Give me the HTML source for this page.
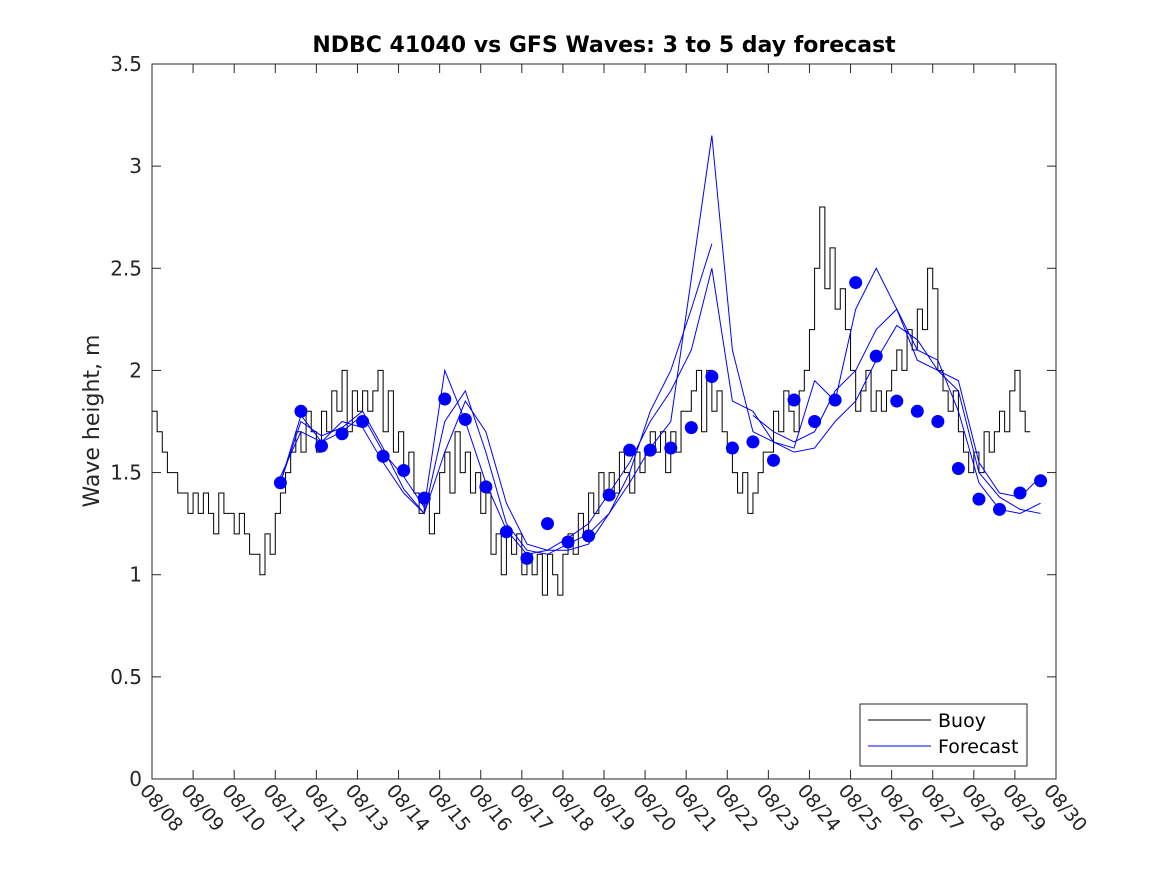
<!DOCTYPE html>
<html><head><meta charset="utf-8">
<style>
body{margin:0;background:#fff;}
svg{display:block;font-family:"DejaVu Sans","Liberation Sans",sans-serif;}
</style></head>
<body>
<svg id="chart" width="1167" height="875" viewBox="0 0 1167 875" xmlns="http://www.w3.org/2000/svg">
<rect width="1167" height="875" fill="#fff"/>
<text x="604" y="52" text-anchor="middle" font-size="22" font-weight="bold" fill="#000">NDBC 41040 vs GFS Waves: 3 to 5 day forecast</text>
<text transform="translate(99,421) rotate(-90)" text-anchor="middle" font-size="22" fill="#262626">Wave height, m</text>
<g id="axes"></g>
<g id="series"></g>
<g>
<rect x="860" y="704" width="167" height="62" fill="#fff" stroke="#262626" stroke-width="1"/>
<line x1="868" y1="720" x2="931" y2="720" stroke="#000" stroke-width="1"/>
<text x="938" y="727" font-size="19" fill="#000">Buoy</text>
<line x1="868" y1="746" x2="931" y2="746" stroke="#0000ff" stroke-width="1"/>
<text x="938" y="753" font-size="19" fill="#000">Forecast</text>
</g>
</svg>
<script>
const yTicks=[0,0.5,1,1.5,2,2.5,3,3.5];
const yTickLabels=["0","0.5","1","1.5","2","2.5","3","3.5"];
const xTickLabels=["08/08","08/09","08/10","08/11","08/12","08/13","08/14","08/15","08/16","08/17","08/18","08/19","08/20","08/21","08/22","08/23","08/24","08/25","08/26","08/27","08/28","08/29","08/30"];
const buoyStart=0, buoyStep=0.125;
const buoy=[1.8,1.7,1.6,1.5,1.5,1.4,1.4,1.3,
1.4,1.3,1.4,1.3,1.2,1.4,1.3,1.3,
1.2,1.3,1.2,1.1,1.1,1.0,1.2,1.1,
1.3,1.4,1.5,1.6,1.7,1.6,1.8,1.7,
1.6,1.8,1.7,1.9,1.8,2.0,1.7,1.9,
1.8,1.9,1.8,1.9,2.0,1.7,1.9,1.6,
1.7,1.5,1.6,1.4,1.3,1.4,1.2,1.3,
1.5,1.6,1.4,1.7,1.5,1.6,1.4,1.5,
1.3,1.4,1.1,1.2,1.0,1.2,1.1,1.2,
1.0,1.1,1.0,1.1,0.9,1.1,1.0,0.9,
1.1,1.2,1.1,1.3,1.2,1.4,1.3,1.5,
1.4,1.5,1.4,1.6,1.5,1.4,1.6,1.5,
1.6,1.7,1.6,1.7,1.5,1.7,1.6,1.8,
1.8,1.9,2.0,1.7,2.0,1.8,1.9,1.7,
1.6,1.5,1.4,1.5,1.3,1.4,1.5,1.6,
1.6,1.8,1.7,1.9,1.8,1.7,1.9,2.0,
2.2,2.5,2.8,2.4,2.6,2.3,2.4,2.2,
2.0,1.8,1.9,2.0,1.8,1.9,1.8,1.9,
2.0,2.1,2.0,2.2,2.1,2.3,2.2,2.5,
2.4,2.0,1.9,1.8,1.9,1.7,1.6,1.5,
1.6,1.5,1.7,1.6,1.7,1.8,1.7,1.9,
2.0,1.8,1.7];
const fcStart=3.125, fcStep=0.5;
const dots=[1.45,1.80,1.63,1.69,1.75,1.58,1.51,1.375,1.86,1.76,1.43,1.21,1.08,1.25,1.16,1.19,1.39,1.61,1.61,1.62,1.72,1.97,1.62,1.65,1.56,1.855,1.75,1.855,2.43,2.07,1.85,1.80,1.75,1.52,1.37,1.32,1.40,1.46];
const fc1=[1.45,1.78,1.65,1.70,1.78,1.60,1.48,1.33,2.00,1.75,1.45,1.22,1.10,1.12,1.12,1.15,1.30,1.45,1.62,1.75,2.45,3.15,2.10,1.70,1.65,1.62,1.95,1.85,2.30,2.50,2.30,2.05,2.00,1.95,1.55,1.40,1.38,1.48];
const fc2=[1.45,1.75,1.68,1.72,1.80,1.62,1.42,1.30,1.75,1.90,1.60,1.25,1.12,1.10,1.15,1.20,1.30,1.50,1.80,2.00,2.30,2.62,null,1.78,1.70,1.65,1.70,1.90,2.00,2.20,2.30,2.10,2.05,1.80,1.45,1.32,1.30,1.35];
const fc3=[1.48,1.70,1.65,1.75,1.72,1.55,1.40,1.30,1.60,1.85,1.70,1.35,1.15,1.12,1.18,1.25,1.40,1.55,1.75,1.90,2.10,2.50,1.85,1.80,1.65,1.60,1.62,1.75,1.85,2.05,2.22,2.15,2.00,1.90,1.50,1.38,1.32,1.30];

const X0=152,X1=1056,Y0=779,Y1=64;
const xs=d=>X0+(X1-X0)*d/22;
const ys=v=>Y0-(Y0-Y1)*v/3.5;
const NS="http://www.w3.org/2000/svg";
function mk(tag,attrs,parent){const e=document.createElementNS(NS,tag);for(const k in attrs)e.setAttribute(k,attrs[k]);parent.appendChild(e);return e;}
const ax=document.getElementById('axes');
const box=mk('rect',{x:X0,y:Y1,width:X1-X0,height:Y0-Y1,fill:'none',stroke:'#262626','stroke-width':1},ax);


yTicks.forEach((v,i)=>{const y=ys(v);
 mk('line',{x1:X0,y1:y,x2:X0+9,y2:y,stroke:'#262626'},ax);
 mk('line',{x1:X1,y1:y,x2:X1-9,y2:y,stroke:'#262626'},ax);
 const t=mk('text',{x:X0-10,y:y+7,'text-anchor':'end','font-size':20,fill:'#262626'},ax);
 t.textContent=yTickLabels[i];
 
 
});
xTickLabels.forEach((lab,i)=>{const x=xs(i);
 mk('line',{x1:x,y1:Y0,x2:x,y2:Y0-9,stroke:'#262626'},ax);
 mk('line',{x1:x,y1:Y1,x2:x,y2:Y1+9,stroke:'#262626'},ax);
 const t=mk('text',{x:0,y:0,transform:`translate(${x-13},${Y0+12}) rotate(50)`,'font-size':19,fill:'#262626'},ax);
 t.textContent=lab;
 
 
});
const sg=document.getElementById('series');
let d='';
buoy.forEach((v,i)=>{const x=xs(buoyStart+i*buoyStep),y=ys(v);
 if(i===0)d+=`M${x},${y}`;else d+=`V${y}`;
 d+=`H${xs(buoyStart+(i+1)*buoyStep)}`;});
const bp=mk('path',{d:d,fill:'none',stroke:'#000','stroke-width':1},sg);


function fcLine(arr,name){let p='',pen=false;
 arr.forEach((v,i)=>{if(v===null){pen=false;return;}
  const x=xs(fcStart+i*fcStep),y=ys(v);p+=(pen?'L':'M')+x+','+y;pen=true;});
 const e=mk('path',{d:p,fill:'none',stroke:'#0000ff','stroke-width':1},sg);
 
 }
fcLine(fc1,'forecast-line-1');fcLine(fc2,'forecast-line-2');fcLine(fc3,'forecast-line-3');
dots.forEach((v,i)=>{const c=mk('circle',{cx:xs(fcStart+i*fcStep),cy:ys(v),r:6.5,fill:'#0000ff'},sg);
 
 });
</script>
</body></html>
